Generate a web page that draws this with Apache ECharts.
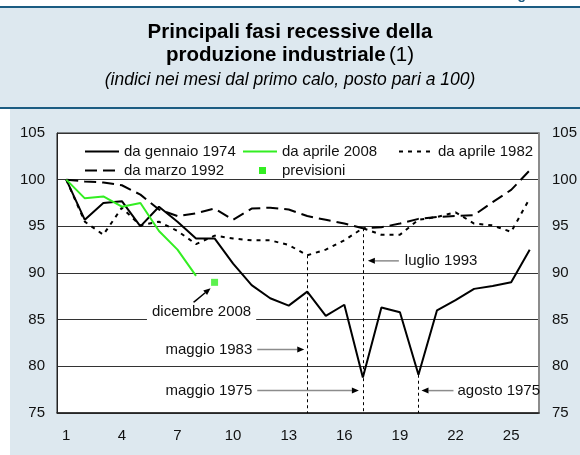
<!DOCTYPE html>
<html>
<head>
<meta charset="utf-8">
<script src="https://cdn.jsdelivr.net/npm/echarts@6/dist/echarts.min.js"></script>
<style>
  html, body { margin: 0; padding: 0; background: #fff; }
  #main { width: 580px; height: 455px; }
</style>
</head>
<body>
<div id="main"></div>
<script>
// mesi dal primo calo
var mesi = ['1','2','3','4','5','6','7','8','9','10','11','12','13','14','15','16','17','18','19','20','21','22','23','24','25','26'];

// indici (primo mese = 100)
var gennaio1974 = [100, 95.7, 97.5, 97.7, 95.0, 97.1, 95.5, 93.7, 93.7, 91.0, 88.7, 87.3, 86.5, 88.0, 85.4, 86.6, 78.8, 86.3, 85.8, 79.1, 86.0, 87.1, 88.3, 88.6, 89.0, 92.5];
var aprile2008 = [100, 98.0, 98.2, 97.1, 97.5, 94.5, 92.5, 89.7];
var aprile1982 = [100, 95.5, 94.1, 97.0, 95.1, 95.5, 94.5, 93.1, 94.0, 93.7, 93.5, 93.5, 93.0, 91.9, 92.5, 93.5, 94.8, 94.1, 94.1, 95.7, 96.0, 96.5, 95.3, 95.1, 94.4, 98.0];
var marzo1992 = [100, 99.8, 99.7, 99.4, 98.4, 96.8, 96.1, 96.4, 96.9, 95.7, 96.9, 97.0, 96.8, 96.1, 95.7, 95.3, 94.8, 94.9, 95.3, 95.8, 96.0, 96.1, 96.2, 97.6, 98.9, 101.0];
var previsioni = [null, null, null, null, null, null, null, null, 89.0];

// scala
var yMin = 75, yMax = 105, yStep = 5;

var FONT = '"Liberation Sans", Arial, sans-serif';
var VERDE = '#33ee22';
var SFONDO = '#dde8ef';
var BLU = '#1b5c82';

var chart = echarts.init(document.getElementById('main'), null, { renderer: 'canvas' });

function legenda(name, left, top, extra) {
  return Object.assign({
    data: [name],
    left: left,
    top: top,
    itemWidth: 34,
    itemHeight: 14,
    itemGap: 0,
    padding: 0,
    selectedMode: false,
    itemStyle: { opacity: 0 },
    textStyle: { fontSize: 15, color: '#111', fontFamily: FONT }
  }, extra || {});
}

// linee verticali tratteggiate (dal punto fino all'asse)
function verticale(serie, i) {
  return [
    { coord: [mesi[i], serie[i]] },
    { coord: [mesi[i], yMin] }
  ];
}

var markVert = function (serie, i) {
  return {
    silent: true,
    symbol: 'none',
    label: { show: false },
    lineStyle: { color: '#000', width: 1, type: [3, 3] },
    data: [verticale(serie, i)]
  };
};

var option = {
  backgroundColor: SFONDO,
  animation: false,
  textStyle: { fontFamily: FONT },
  grid: {
    left: 57,
    right: 36,
    top: 133,
    bottom: 42,
    show: true,
    backgroundColor: '#fff',
    borderColor: '#222',
    borderWidth: 1
  },
  legend: [
    legenda('da gennaio 1974', 84, 144),
    legenda('da aprile 2008', 242, 144),
    legenda('da aprile 1982', 398, 144),
    legenda('da marzo 1992', 84, 163),
    legenda('previsioni', 259, 163, {
      itemWidth: 7,
      itemHeight: 7,
      icon: 'rect',
      itemStyle: { opacity: 1 },
      textStyle: { fontSize: 15, color: '#111', fontFamily: FONT, padding: [0, 0, 0, 11] }
    })
  ],
  xAxis: {
    type: 'category',
    data: mesi,
    boundaryGap: true,
    axisLine: { lineStyle: { color: '#222', width: 1.5 } },
    axisTick: { inside: true, length: 5, interval: 0, lineStyle: { color: '#222' } },
    axisLabel: { interval: 2, margin: 15, fontSize: 15, color: '#111', fontFamily: FONT },
    splitLine: { show: false }
  },
  yAxis: [
    {
      type: 'value',
      min: yMin,
      max: yMax,
      interval: yStep,
      axisLine: { show: true, lineStyle: { color: '#222', width: 1 } },
      axisTick: { show: false },
      axisLabel: { margin: 12, fontSize: 15, color: '#111', fontFamily: FONT },
      splitLine: { lineStyle: { color: '#333', width: 1 } }
    },
    {
      type: 'value',
      position: 'right',
      min: yMin,
      max: yMax,
      interval: yStep,
      axisLine: { show: true, lineStyle: { color: '#8c8c8c', width: 2 } },
      axisTick: { show: false },
      axisLabel: { margin: 13, fontSize: 15, color: '#111', fontFamily: FONT },
      splitLine: { show: false }
    }
  ],
  series: [
    {
      name: 'da gennaio 1974',
      type: 'line',
      data: gennaio1974,
      symbol: 'none',
      z: 5,
      lineStyle: { color: '#000', width: 2 },
      itemStyle: { color: '#000' },
      markLine: markVert(gennaio1974, 19)
    },
    {
      name: 'da aprile 2008',
      type: 'line',
      data: aprile2008,
      symbol: 'none',
      z: 6,
      lineStyle: { color: VERDE, width: 2 },
      itemStyle: { color: VERDE }
    },
    {
      name: 'da aprile 1982',
      type: 'line',
      data: aprile1982,
      symbol: 'none',
      lineStyle: { color: '#000', width: 2, type: [4, 5] },
      itemStyle: { color: '#000' },
      markLine: markVert(aprile1982, 13)
    },
    {
      name: 'da marzo 1992',
      type: 'line',
      data: marzo1992,
      symbol: 'none',
      lineStyle: { color: '#000', width: 2, type: [12, 6] },
      itemStyle: { color: '#000' },
      markLine: markVert(marzo1992, 16)
    },
    {
      name: 'previsioni',
      type: 'scatter',
      data: previsioni,
      symbol: 'rect',
      symbolSize: 7,
      itemStyle: { color: VERDE }
    }
  ]
};

chart.setOption(option);

// ---- cornice e titoli ----
var cornice = [
  { type: 'rect', shape: { x: 0, y: 0, width: 580, height: 6 }, style: { fill: '#fff' }, silent: true },
  { type: 'rect', shape: { x: 0, y: 6, width: 580, height: 2 }, style: { fill: BLU }, silent: true },
  { type: 'rect', shape: { x: 0, y: 107, width: 580, height: 2 }, style: { fill: BLU }, silent: true },
  { type: 'rect', shape: { x: 0, y: 109, width: 10, height: 346 }, style: { fill: '#fff' }, silent: true },
  {
    type: 'text', x: 505, y: 2.5, silent: true,
    style: { text: 'Figura', fill: BLU, font: 'bold 14px ' + FONT, verticalAlign: 'bottom' }
  },
  {
    type: 'text', x: 290, y: 32, silent: true,
    style: { text: 'Principali fasi recessive della', fill: '#000', font: 'bold 20.5px ' + FONT, align: 'center', verticalAlign: 'middle' }
  },
  {
    type: 'text', x: 290, y: 55, silent: true,
    style: {
      text: '{b|produzione industriale} {n|(1)}',
      align: 'center', verticalAlign: 'middle',
      rich: {
        b: { fontFamily: FONT, fontSize: 20.5, fontWeight: 'bold', fill: '#000', color: '#000' },
        n: { fontFamily: FONT, fontSize: 20.5, fontWeight: 'normal', fill: '#000', color: '#000' }
      }
    }
  },
  {
    type: 'text', x: 290, y: 80.5, silent: true,
    style: { text: '(indici nei mesi dal primo calo, posto pari a 100)', fill: '#000', font: 'italic 17.5px ' + FONT, align: 'center', verticalAlign: 'middle' }
  }
];

// ---- annotazioni ----
function px(i, v) {
  return chart.convertToPixel({ gridIndex: 0 }, [mesi[i], v]);
}
function yPx(v) {
  return chart.convertToPixel({ yAxisIndex: 0 }, v);
}

function freccia(x1, y1, x2, y2, colLinea) {
  var ang = Math.atan2(y2 - y1, x2 - x1);
  var L = 7, W = 3;
  var bx = x2 - L * Math.cos(ang), by = y2 - L * Math.sin(ang);
  var nx = -Math.sin(ang) * W, ny = Math.cos(ang) * W;
  return [
    { type: 'line', z: 50, silent: true, shape: { x1: x1, y1: y1, x2: bx, y2: by }, style: { stroke: colLinea, lineWidth: 1.5 } },
    { type: 'polygon', z: 51, silent: true, shape: { points: [[x2, y2], [bx + nx, by + ny], [bx - nx, by - ny]] }, style: { fill: '#000' } }
  ];
}

function testo(x, y, t, align, extra) {
  return {
    type: 'text', z: 52, silent: true, x: x, y: y,
    style: Object.assign({ text: t, fill: '#111', font: '15px ' + FONT, align: align, verticalAlign: 'middle' }, extra || {})
  };
}

var ann = [];
// luglio 1993
var p17 = px(16, yMin)[0];
var yL = yPx(91.3);
ann = ann.concat(freccia(p17 + 36, yL, p17 + 5, yL, '#8c8c8c'));
ann.push(testo(p17 + 42, yL, 'luglio 1993', 'left'));
// maggio 1983
var p14 = px(13, yMin)[0];
var y83 = yPx(81.8);
ann = ann.concat(freccia(p14 - 50, y83, p14 - 3, y83, '#8c8c8c'));
ann.push(testo(p14 - 55, y83, 'maggio 1983', 'right'));
// maggio 1975
var y75 = yPx(77.4);
ann = ann.concat(freccia(p14 - 50, y75, p17 - 4, y75, '#8c8c8c'));
ann.push(testo(p14 - 55, y75, 'maggio 1975', 'right'));
// agosto 1975
var p20 = px(19, yMin)[0];
ann = ann.concat(freccia(p20 + 35, y75, p20 + 3, y75, '#8c8c8c'));
ann.push(testo(p20 + 39, y75, 'agosto 1975', 'left'));
// dicembre 2008
var pp = px(8, previsioni[8]);
ann = ann.concat(freccia(pp[0] - 21, pp[1] + 20, pp[0] - 4, pp[1] + 6, '#000'));
ann.push(testo(pp[0] - 13, pp[1] + 30, 'dicembre 2008', 'center', { backgroundColor: '#fff', padding: [2, 5, 2, 5] }));

chart.setOption({ graphic: cornice.concat(ann) });
</script>
</body>
</html>
